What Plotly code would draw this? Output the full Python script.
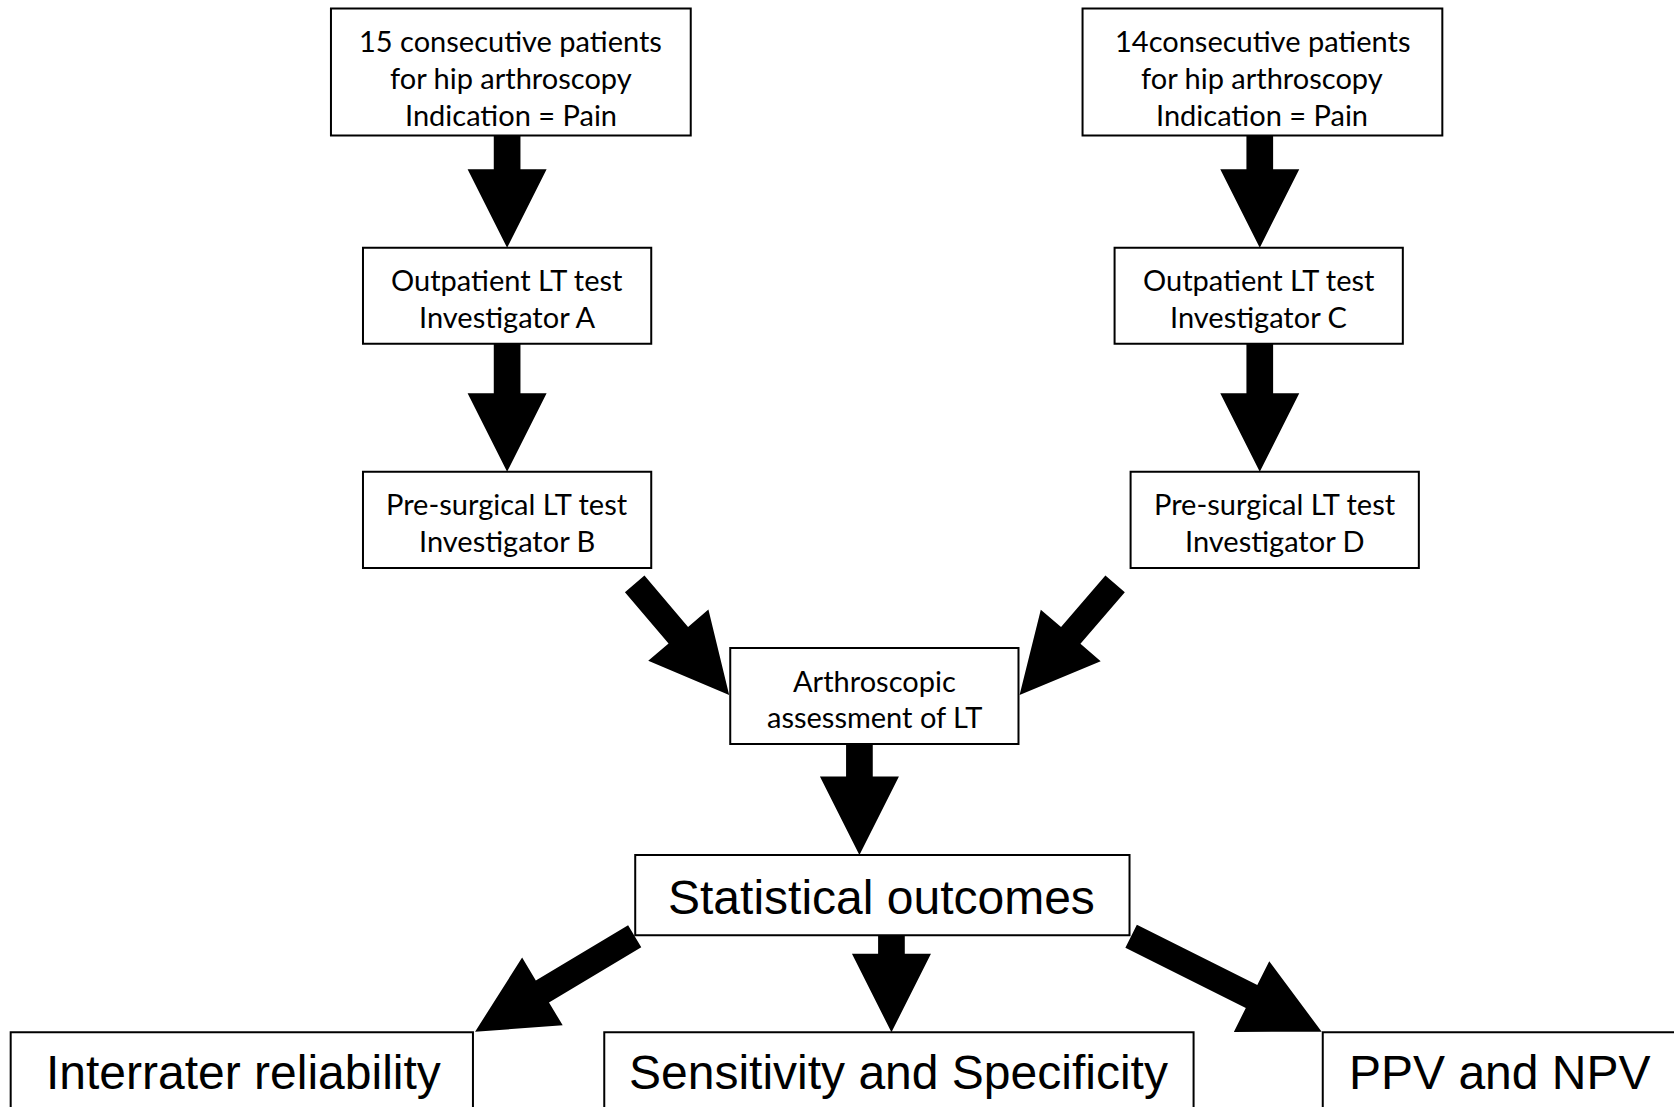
import math
import plotly.graph_objects as go

# ---------------- content (node texts) ----------------
node_lines = [
    ["15 consecutive patients", "for hip arthroscopy", "Indication = Pain"],
    ["14consecutive patients", "for hip arthroscopy", "Indication = Pain"],
    ["Outpatient LT test", "Investigator A"],
    ["Outpatient LT test", "Investigator C"],
    ["Pre-surgical LT test", "Investigator B"],
    ["Pre-surgical LT test", "Investigator D"],
    ["Arthroscopic", "assessment of LT"],
]
outcome_labels = ["Statistical outcomes", "Interrater reliability",
                  "Sensitivity and Specificity", "PPV and NPV"]

# ---------------- layout (positions in a 1568 x 1037 canvas) ----------------
node_boxes = [  # x0, y0, x1, y1
    (310, 8, 647, 127),
    (1014, 8, 1351, 127),
    (340, 232, 610, 322),
    (1044, 232, 1314, 322),
    (340, 442, 610, 532),
    (1059, 442, 1329, 532),
    (684, 607, 954, 697),
]
node_first_line_y = [38, 38, 262, 262, 472, 472, 637]
line_gap = 34.5

outcome_boxes = [
    (595, 801, 1058, 876),
    (10, 967, 443, 1060),
    (566, 967, 1118, 1060),
    (1239, 967, 1600, 1060),
]
outcome_text_pos = [(826, 841), (228, 1005), (842, 1005), (1405, 1005)]

arrows = [  # tail (x, y) -> tip (x, y), shaft width
    ((475, 127), (475, 232), 25),
    ((475, 322), (475, 442), 25),
    ((1180, 127), (1180, 232), 25),
    ((1180, 322), (1180, 442), 25),
    ((594.5, 547), (683, 651), 24),
    ((1044.5, 547), (955, 651), 24),
    ((805, 697), (805, 801), 25),
    ((594.5, 877), (445, 966.5), 24),
    ((835, 876), (835, 967), 25),
    ((1059.5, 877), (1238, 966.5), 24),
]

W_CANVAS, H_CANVAS = 1568, 1037


def arrow_path(tail, tip, shaft=25, head=74, hlen=73.5):
    (x0, y0), (x1, y1) = tail, tip
    dx, dy = x1 - x0, y1 - y0
    L = math.hypot(dx, dy)
    ux, uy = dx / L, dy / L
    px, py = -uy, ux
    bx, by = x1 - ux * hlen, y1 - uy * hlen
    pts = [
        (x0 + px * shaft / 2, y0 + py * shaft / 2),
        (bx + px * shaft / 2, by + py * shaft / 2),
        (bx + px * head / 2, by + py * head / 2),
        (x1, y1),
        (bx - px * head / 2, by - py * head / 2),
        (bx - px * shaft / 2, by - py * shaft / 2),
        (x0 - px * shaft / 2, y0 - py * shaft / 2),
    ]
    return "M " + " L ".join(f"{x:.2f},{y:.2f}" for x, y in pts) + " Z"


fig = go.Figure()
shapes = []
annotations = []

small_font = dict(family="Lato, Noto Sans, sans-serif", size=29, color="black")
big_font = dict(family="Liberation Sans, Arial, sans-serif", size=48, color="black")

for (x0, y0, x1, y1), lines, ly in zip(node_boxes, node_lines, node_first_line_y):
    shapes.append(dict(type="rect", x0=x0, y0=y0, x1=x1, y1=y1, xref="x", yref="y",
                       line=dict(color="black", width=2), fillcolor="white", layer="above"))
    cx = (x0 + x1) / 2
    for i, t in enumerate(lines):
        annotations.append(dict(x=cx, y=ly + i * line_gap, xref="x", yref="y", text=t,
                                showarrow=False, font=small_font, xanchor="center", yanchor="middle"))

for (x0, y0, x1, y1), label, (tx, ty) in zip(outcome_boxes, outcome_labels, outcome_text_pos):
    shapes.append(dict(type="rect", x0=x0, y0=y0, x1=x1, y1=y1, xref="x", yref="y",
                       line=dict(color="black", width=2), fillcolor="white", layer="above"))
    annotations.append(dict(x=tx, y=ty, xref="x", yref="y", text=label, showarrow=False,
                            font=big_font, xanchor="center", yanchor="middle"))

for tail, tip, sw in arrows:
    shapes.append(dict(type="path", path=arrow_path(tail, tip, shaft=sw), xref="x", yref="y",
                       fillcolor="black", line=dict(width=0), layer="above"))

fig.update_layout(
    width=1674, height=1107,
    margin=dict(l=0, r=0, t=0, b=0),
    paper_bgcolor="white", plot_bgcolor="white",
    xaxis=dict(range=[0, W_CANVAS], visible=False, fixedrange=True),
    yaxis=dict(range=[H_CANVAS, 0], visible=False, fixedrange=True),
    shapes=shapes, annotations=annotations, showlegend=False,
)

fig.write_html("out.html", config={"displayModeBar": False},
               post_script="document.body.style.margin='0';document.body.style.overflow='hidden';")
